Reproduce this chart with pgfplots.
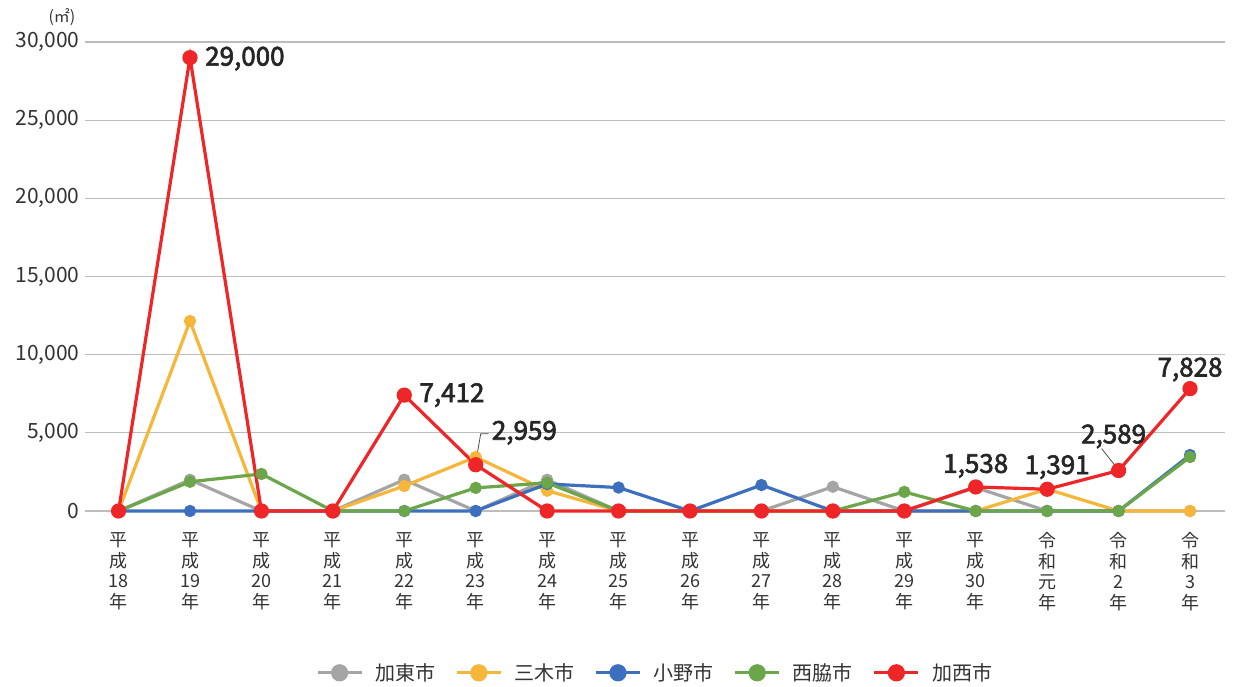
\documentclass[border=0pt]{standalone}
\usepackage{pgfplots}
\pgfplotsset{compat=1.18}
\usepackage{fontspec}
\setmainfont{Noto Sans CJK JP}
\newfontfamily\lblfont[FakeBold=2.5]{Noto Sans CJK JP}
\definecolor{cgray}{HTML}{A5A5A5}
\definecolor{cyel}{HTML}{F6B63A}
\definecolor{cblue}{HTML}{3D6FBF}
\definecolor{cgreen}{HTML}{6CA64A}
\definecolor{cred}{HTML}{EE2628}
\definecolor{ctxt}{HTML}{333333}
\definecolor{cgrid}{HTML}{BDBDBD}
\begin{document}
\begin{tikzpicture}
\begin{axis}[
  scale only axis, width=1140pt, height=469pt,
  xmin=-0.47, xmax=15.49, ymin=0, ymax=30000,
  clip=false,
  axis line style={draw=none},
  major tick length=0pt,
  ymajorgrids, grid style={cgrid, line width=1.2pt},
  ytick={0,5000,10000,15000,20000,25000,30000},
  scaled y ticks=false,
  yticklabel style={/pgf/number format/.cd, 1000 sep={,}, assume math mode=true, /tikz/.cd, font=\fontsize{21}{23}\selectfont, text=ctxt, xshift=-2pt},
  xtick={0,...,15},
  xticklabels={{平\\成\\18\\年},{平\\成\\19\\年},{平\\成\\20\\年},{平\\成\\21\\年},{平\\成\\22\\年},{平\\成\\23\\年},{平\\成\\24\\年},{平\\成\\25\\年},{平\\成\\26\\年},{平\\成\\27\\年},{平\\成\\28\\年},{平\\成\\29\\年},{平\\成\\30\\年},{令\\和\\元\\年},{令\\和\\2\\年},{令\\和\\3\\年}},
  xticklabel style={align=center, font=\fontsize{18}{20.6}\selectfont, text=ctxt, yshift=-18pt},
  legend style={at={(0.5,-0.345)}, anchor=center, draw=none, legend columns=5, font=\fontsize{20}{22}\selectfont, text=ctxt,
    /tikz/every odd column/.append style={column sep=10pt},
    /tikz/every even column/.append style={column sep=18pt}},
  legend image code/.code={\draw[#1, mark=none] (0pt,0pt) -- (44pt,0pt); \draw[#1, mark size=7pt] plot coordinates {(22pt,0pt)};},
  every axis plot/.append style={line width=3.2pt, mark=*},
]
\addplot[cgray, mark options={fill=cgray, draw=cgray}, mark size=4.5pt] coordinates {
(0,0)(1,2000)(2,0)(3,0)(4,2000)(5,0)(6,2000)(7,0)(8,0)(9,0)(10,1550)(11,0)(12,1500)(13,0)(14,0)(15,0)};
\addlegendentry{加東市}
\addplot[cyel, mark options={fill=cyel, draw=cyel}, mark size=4.5pt] coordinates {
(0,0)(1,12150)(2,0)(3,0)(4,1600)(5,3450)(6,1300)(7,0)(8,0)(9,0)(10,0)(11,0)(12,0)(13,1400)(14,0)(15,0)};
\addlegendentry{三木市}
\addplot[cblue, mark options={fill=cblue, draw=cblue}, mark size=4.5pt] coordinates {
(0,0)(1,0)(2,0)(3,0)(4,0)(5,0)(6,1730)(7,1500)(8,0)(9,1660)(10,0)(11,0)(12,0)(13,0)(14,0)(15,3580)};
\addlegendentry{小野市}
\addplot[cgreen, mark options={fill=cgreen, draw=cgreen}, mark size=4.5pt] coordinates {
(0,0)(1,1870)(2,2370)(3,0)(4,0)(5,1480)(6,1800)(7,0)(8,0)(9,0)(10,0)(11,1220)(12,0)(13,0)(14,0)(15,3450)};
\addlegendentry{西脇市}
\addplot[cred, mark options={fill=cred, draw=cred}, mark size=6pt] coordinates {
(0,0)(1,29000)(2,0)(3,0)(4,7412)(5,2959)(6,0)(7,0)(8,0)(9,0)(10,0)(11,0)(12,1538)(13,1391)(14,2589)(15,7828)};
\addlegendentry{加西市}
% data labels
\begin{scope}[every node/.style={font=\lblfont\fontsize{26}{28}\selectfont, text=black!85, inner sep=0pt}]
\node[anchor=west] at (axis cs:1,29000) [xshift=15pt, yshift=-1pt] {29,000};
\node[anchor=west] at (axis cs:4,7412) [xshift=15pt] {7,412};
\node[anchor=west] at (axis cs:5,2959) [xshift=16pt, yshift=32pt] {2,959};
\node[anchor=south] at (axis cs:12,1538) [yshift=9pt] {1,538};
\node[anchor=south] at (axis cs:13,1391) [xshift=10pt, yshift=10pt] {1,391};
\node[anchor=south] at (axis cs:14,2589) [xshift=-5pt, yshift=22pt] {2,589};
\node[anchor=south] at (axis cs:15,7828) [yshift=7pt] {7,828};
\end{scope}
\draw[black!70, line width=0.8pt] (axis cs:5,2959) ++(1pt,8pt) -- ++(4pt,23pt) -- ++(8pt,0pt);
\draw[black!70, line width=0.8pt] (axis cs:14,2589) ++(-2pt,3pt) -- ++(-15pt,19pt);
\node[font=\fontsize{16}{18}\selectfont, text=ctxt, anchor=center] at (axis cs:-0.47,30000) [xshift=-23pt, yshift=25pt] {(㎡)};
\end{axis}
\path (0,0) ++(-85pt,-175pt) rectangle ++(1240pt,686pt);
\end{tikzpicture}
\end{document}
